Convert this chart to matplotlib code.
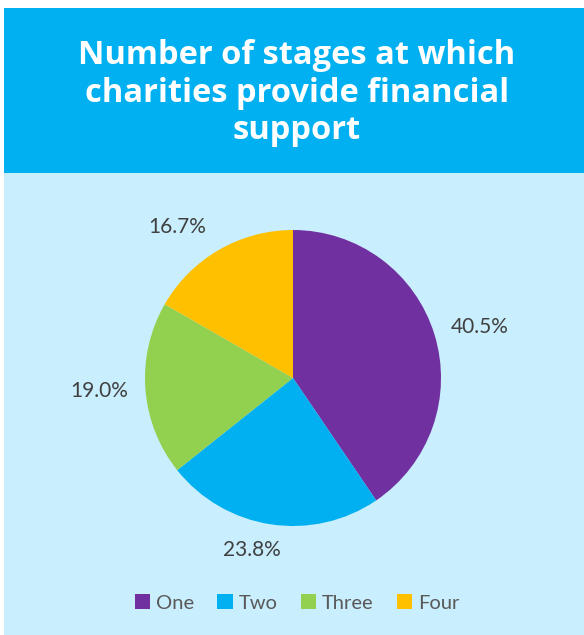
import numpy as np
import matplotlib
matplotlib.use("Agg")
import matplotlib.pyplot as plt
from matplotlib.patches import Rectangle

categories = ["One", "Two", "Three", "Four"]
shares = [40.5, 23.8, 19.0, 16.7]
colors = ["#7030A0", "#00B0F0", "#92D050", "#FFC000"]
title = "Number of stages at which\ncharities provide financial\nsupport"

W, H = 584, 635
fig = plt.figure(figsize=(W / 100, H / 100), dpi=100)
fig.patch.set_facecolor("white")

def fx(px):
    return px / W

def fy(py):
    return 1 - py / H

# header band and light panel
fig.patches.append(Rectangle((fx(4), fy(173)), fx(580), 165 / H, transform=fig.transFigure,
                             facecolor="#00B0F0", edgecolor="none", zorder=-10))
fig.patches.append(Rectangle((fx(4), 0), fx(580), fy(173), transform=fig.transFigure,
                             facecolor="#C9EEFD", edgecolor="none", zorder=-10))

fig.text(fx(297), fy(93), title, ha="center", va="center", color="white",
         fontsize=23.5, fontweight="bold", family="Open Sans", linespacing=1.17)

cx, cy, r = 293, 378, 148
ax = fig.add_axes([fx(cx - r), fy(cy + r), 2 * r / W, 2 * r / H])
ax.set_facecolor("none")
ax.set_zorder(5)
wedges, _ = ax.pie(shares, colors=colors, startangle=90, counterclock=False,
                   wedgeprops=dict(linewidth=0))
ax.set_xlim(-1, 1)
ax.set_ylim(-1, 1)
ax.set_aspect("equal")
ax.axis("off")

# data labels: radial distance and small angular nudge (degrees) from each wedge's middle
label_dist = [1.31, 1.195, 1.314, 1.287]
label_nudge = [-1.8, -4.8, -0.5, 7.4]
for w, v, d, nd in zip(wedges, shares, label_dist, label_nudge):
    ang = np.deg2rad((w.theta1 + w.theta2) / 2 + nd)
    ax.text(d * np.cos(ang), d * np.sin(ang), f"{v:.1f}%", ha="center", va="center",
            fontsize=15, color="#404040", family="Lato", clip_on=False)

handles = [Rectangle((0, 0), 1, 1, facecolor=c, edgecolor="none") for c in colors]
fig.legend(handles, categories, loc="center", bbox_to_anchor=(fx(297), fy(603)),
           ncol=4, frameon=False, handlelength=0.75, handleheight=0.75, handletextpad=0.3,
           columnspacing=1.15, prop=dict(family="Lato", size=14.5), labelcolor="#595959")

fig.savefig("out.png", dpi=100, facecolor=fig.get_facecolor())
